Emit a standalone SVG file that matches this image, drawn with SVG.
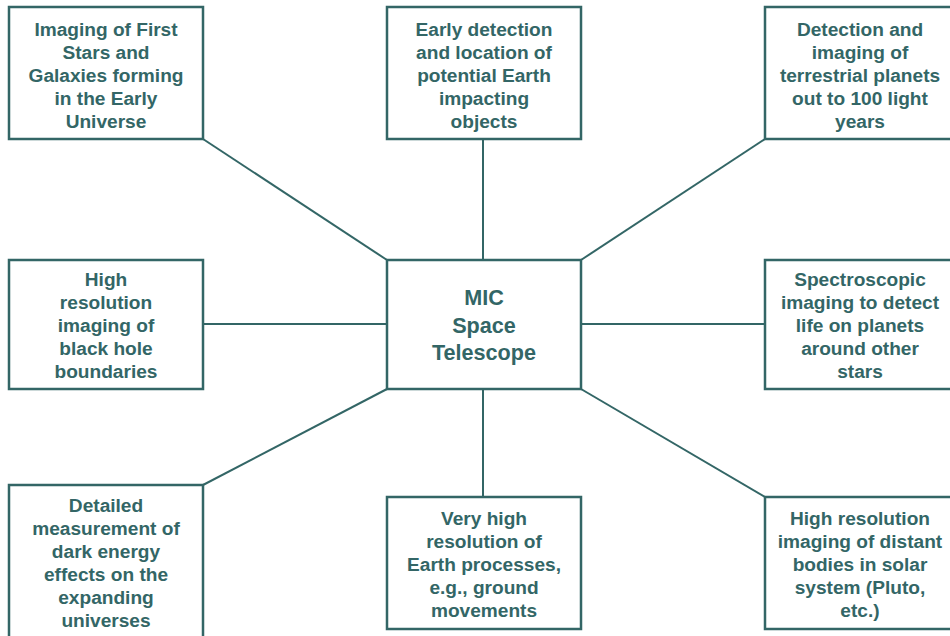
<svg xmlns="http://www.w3.org/2000/svg" width="950" height="636" viewBox="0 0 950 636">
<style>
.box{fill:#ffffff;stroke:#336666;stroke-width:2.5}
.t{font-family:"Liberation Sans",Arial,sans-serif;font-weight:bold;font-size:19.1px;fill:#336666;text-anchor:middle}
.c{font-size:21.6px}
.con line{stroke:#336666;stroke-width:2}
</style>
<rect width="950" height="636" fill="#ffffff"/>
<g id="connectors" class="con">
<line x1="203" y1="139" x2="387" y2="260"/>
<line x1="483" y1="139" x2="483" y2="260"/>
<line x1="765" y1="139" x2="581" y2="260"/>
<line x1="203" y1="324" x2="387" y2="324"/>
<line x1="581" y1="324" x2="765" y2="324"/>
<line x1="387" y1="389" x2="203" y2="485"/>
<line x1="483" y1="389" x2="483" y2="497"/>
<line x1="581" y1="389" x2="765" y2="497"/>
</g>
<g id="center">
<rect class="box" x="387" y="260" width="194" height="129"/>
<text class="t c" x="484" y="305">MIC</text>
<text class="t c" x="484" y="333">Space</text>
<text class="t c" x="484" y="360">Telescope</text>
</g>
<g id="n-first-stars">
<rect class="box" x="9" y="7" width="194" height="132"/>
<text class="t" x="106" y="36">Imaging of First</text>
<text class="t" x="106" y="59">Stars and</text>
<text class="t" x="106" y="82">Galaxies forming</text>
<text class="t" x="106" y="105">in the Early</text>
<text class="t" x="106" y="128">Universe</text>
</g>
<g id="n-impact">
<rect class="box" x="387" y="7" width="194" height="132"/>
<text class="t" x="484" y="36">Early detection</text>
<text class="t" x="484" y="59">and location of</text>
<text class="t" x="484" y="82">potential Earth</text>
<text class="t" x="484" y="105">impacting</text>
<text class="t" x="484" y="128">objects</text>
</g>
<g id="n-terrestrial">
<rect class="box" x="765" y="7" width="196" height="132"/>
<text class="t" x="860" y="36">Detection and</text>
<text class="t" x="860" y="59">imaging of</text>
<text class="t" x="860" y="82">terrestrial planets</text>
<text class="t" x="860" y="105">out to 100 light</text>
<text class="t" x="860" y="128">years</text>
</g>
<g id="n-blackhole">
<rect class="box" x="9" y="260" width="194" height="129"/>
<text class="t" x="106" y="286">High</text>
<text class="t" x="106" y="309">resolution</text>
<text class="t" x="106" y="332">imaging of</text>
<text class="t" x="106" y="355">black hole</text>
<text class="t" x="106" y="378">boundaries</text>
</g>
<g id="n-spectro">
<rect class="box" x="765" y="260" width="196" height="129"/>
<text class="t" x="860" y="286">Spectroscopic</text>
<text class="t" x="860" y="309">imaging to detect</text>
<text class="t" x="860" y="332">life on planets</text>
<text class="t" x="860" y="355">around other</text>
<text class="t" x="860" y="378">stars</text>
</g>
<g id="n-darkenergy">
<rect class="box" x="9" y="485" width="194" height="160"/>
<text class="t" x="106" y="512">Detailed</text>
<text class="t" x="106" y="535">measurement of</text>
<text class="t" x="106" y="558">dark energy</text>
<text class="t" x="106" y="581">effects on the</text>
<text class="t" x="106" y="604">expanding</text>
<text class="t" x="106" y="627">universes</text>
</g>
<g id="n-earth">
<rect class="box" x="387" y="497" width="194" height="132"/>
<text class="t" x="484" y="525">Very high</text>
<text class="t" x="484" y="548">resolution of</text>
<text class="t" x="484" y="571">Earth processes,</text>
<text class="t" x="484" y="594">e.g., ground</text>
<text class="t" x="484" y="617">movements</text>
</g>
<g id="n-solar">
<rect class="box" x="765" y="497" width="196" height="132"/>
<text class="t" x="860" y="525">High resolution</text>
<text class="t" x="860" y="548">imaging of distant</text>
<text class="t" x="860" y="571">bodies in solar</text>
<text class="t" x="860" y="594">system (Pluto,</text>
<text class="t" x="860" y="617">etc.)</text>
</g>
</svg>
